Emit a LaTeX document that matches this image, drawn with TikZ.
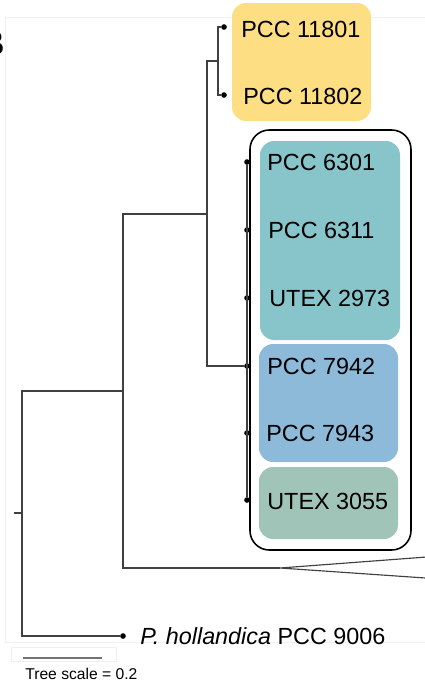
\documentclass[tikz,border=0pt]{standalone}
\usepackage{fontspec}
\setmainfont{Liberation Sans}
\definecolor{cladeyellow}{HTML}{FDDE82}
\definecolor{cladeteal}{HTML}{88C5CA}
\definecolor{cladeblue}{HTML}{8DBAD9}
\definecolor{cladegreen}{HTML}{A0C5B8}
\tikzset{
	tipdot/.style = {circle, fill=black, inner sep=0pt, minimum size=3.2pt},
	strain/.style = {anchor=west, inner sep=0pt, font=\fontsize{13.3}{15}\selectfont},
	branch/.style = {draw=black!75, line width=0.65pt},
	cladebox/.style = {rounded corners=8pt}
}

\begin{document}
\begin{tikzpicture}[x=0.02cm,y=-0.02cm]
	\useasboundingbox (0,0) rectangle (425,683);
	% faint frame and panel letter
	\draw[black!6] (430,17) -- (5,17) -- (5,642) -- (430,642);
	\draw[black!6] (11,647) rectangle (116,661);
	\node[anchor=base east, inner sep=0pt, font=\bfseries\fontsize{20}{24}\selectfont] (panel) at (5,55) {B};
	% clade boxes
	\fill[cladeyellow, cladebox] (232,3) rectangle (371,121);
	\draw[line width=0.9pt, rounded corners=11pt] (250,130) rectangle (411,550);
	\fill[cladeteal, cladebox] (260,141) rectangle (400,340);
	\fill[cladeblue, cladebox] (259,344) rectangle (398,462);
	\fill[cladegreen, cladebox] (259,467) rectangle (398,539);
	% tips
	\node[tipdot] (l11801) at (224,27) {};
	\node[tipdot] (l11802) at (224,95) {};
	\node[tipdot] (l6301) at (247,162) {};
	\node[tipdot] (l6311) at (247,230) {};
	\node[tipdot] (l2973) at (247,298) {};
	\node[tipdot] (l7942) at (247,366) {};
	\node[tipdot] (l7943) at (247,433) {};
	\node[tipdot] (l3055) at (247,500) {};
	\node[tipdot] (l9006) at (123,636) {};
	% inner nodes
	\coordinate (stem) at (14,513);
	\coordinate (root) at (22,513);
	\coordinate (n1) at (123,391);
	\coordinate (n2) at (207,214);
	\coordinate (n3) at (218,61);
	\coordinate (apex) at (280,568);
	\coordinate (edge1) at (440,556);
	\coordinate (edge2) at (440,579);
	% branches
	\draw[branch] (stem) -- (root);
	\draw[branch] (root) |- (n1) (root) |- (l9006);
	\draw[branch] (n1) |- (n2) (n1) |- (apex);
	\draw[branch] (n2) |- (n3) (n2) |- (l7942);
	\draw[branch] (n3) |- (l11801) (n3) |- (l11802);
	\draw[branch, line width=1.1pt] (l6301) -- (l3055);
	\draw[branch] (apex) -- (edge1) (apex) -- (edge2);
	% strain names
	\node[strain] (t11801) at (241,29) {PCC 11801};
	\node[strain] (t11802) at (243,96) {PCC 11802};
	\node[strain] (t6301) at (267,162) {PCC 6301};
	\node[strain] (t6311) at (268,230) {PCC 6311};
	\node[strain] (t2973) at (269,298) {UTEX 2973};
	\node[strain] (t7942) at (267,366) {PCC 7942};
	\node[strain] (t7943) at (266,433) {PCC 7943};
	\node[strain] (t3055) at (267,501) {UTEX 3055};
	\node[strain] (t9006) at (140,636) {\textit{P. hollandica} PCC 9006};
	% tree scale
	\coordinate (bar1) at (23,658);
	\coordinate (bar2) at (102,658);
	\draw[black!55, line width=0.6pt] (bar1) -- (bar2);
	\node[anchor=west, inner sep=0pt, font=\fontsize{8.9}{10}\selectfont] (scale) at (25,674) {Tree scale = 0.2};
\end{tikzpicture}
\end{document}
